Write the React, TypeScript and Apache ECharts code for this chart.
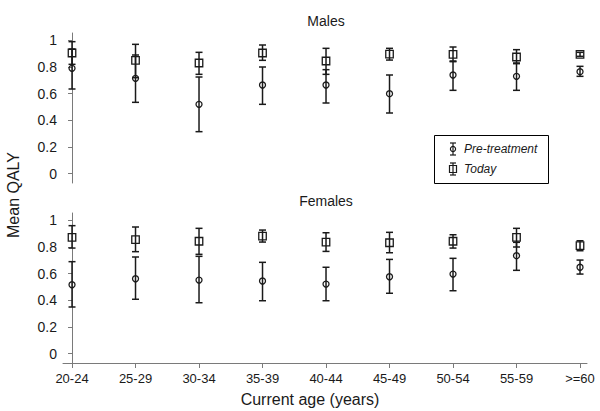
import React, { useEffect, useRef } from "react";
import * as echarts from "echarts";

const categories = ["20-24", "25-29", "30-34", "35-39", "40-44", "45-49", "50-54", "55-59", ">=60"];
const yTicks = [0, 0.2, 0.4, 0.6, 0.8, 1];

const malesPreMean = [0.79, 0.715, 0.52, 0.665, 0.665, 0.6, 0.74, 0.73, 0.765];
const malesPreLow = [0.635, 0.535, 0.315, 0.52, 0.53, 0.455, 0.625, 0.625, 0.73];
const malesPreHigh = [0.935, 0.89, 0.725, 0.8, 0.78, 0.74, 0.845, 0.83, 0.805];
const malesTodayMean = [0.905, 0.85, 0.83, 0.905, 0.845, 0.897, 0.895, 0.875, 0.895];
const malesTodayLow = [0.82, 0.72, 0.745, 0.85, 0.745, 0.852, 0.84, 0.825, 0.88];
const malesTodayHigh = [0.99, 0.97, 0.91, 0.965, 0.94, 0.94, 0.95, 0.93, 0.91];

const femalesPreMean = [0.517, 0.562, 0.552, 0.545, 0.522, 0.577, 0.597, 0.735, 0.648];
const femalesPreLow = [0.35, 0.408, 0.382, 0.397, 0.397, 0.453, 0.472, 0.625, 0.597];
const femalesPreHigh = [0.69, 0.725, 0.73, 0.685, 0.648, 0.707, 0.715, 0.835, 0.702];
const femalesTodayMean = [0.872, 0.855, 0.843, 0.882, 0.837, 0.832, 0.843, 0.872, 0.81];
const femalesTodayLow = [0.792, 0.765, 0.745, 0.837, 0.767, 0.757, 0.792, 0.8, 0.772];
const femalesTodayHigh = [0.96, 0.95, 0.94, 0.927, 0.907, 0.91, 0.892, 0.94, 0.847];

const FONT = "Liberation Sans, Arial, sans-serif";
const INK = "#1a1a1a";
const AXIS = "#7a7a7a";

function errorSeries(low: number[], high: number[], axis: number) {
  return {
    type: "custom",
    xAxisIndex: axis,
    yAxisIndex: axis,
    data: low.map((l, i) => [i, l, high[i]]),
    renderItem: (params: any, api: any) => {
      const x = api.value(0);
      const lo = api.coord([x, api.value(1)]);
      const hi = api.coord([x, api.value(2)]);
      const w = 3.5;
      const st = { stroke: INK, lineWidth: 1.5 };
      return {
        type: "group",
        children: [
          { type: "line", shape: { x1: lo[0], y1: lo[1], x2: hi[0], y2: hi[1] }, style: st },
          { type: "line", shape: { x1: lo[0] - w, y1: lo[1], x2: lo[0] + w, y2: lo[1] }, style: st },
          { type: "line", shape: { x1: hi[0] - w, y1: hi[1], x2: hi[0] + w, y2: hi[1] }, style: st },
        ],
      };
    },
    z: 2,
    silent: true,
  };
}

function markerSeries(mean: number[], axis: number, symbol: string, size: number) {
  return {
    type: "scatter",
    xAxisIndex: axis,
    yAxisIndex: axis,
    symbol,
    symbolSize: size,
    data: mean.map((m, i) => [i, m]),
    itemStyle: { color: "rgba(0,0,0,0)", borderColor: INK, borderWidth: 1.3, opacity: 1 },
    z: 3,
    silent: true,
  };
}

const idx = categories.map((_, i) => i);

function yAxis(grid: number) {
  return {
    type: "value",
    gridIndex: grid,
    min: -0.07,
    max: 1.055,
    axisLine: { show: true, lineStyle: { color: AXIS, width: 1 } },
    axisTick: { show: true, length: 4, customValues: yTicks, lineStyle: { color: AXIS } },
    axisLabel: {
      customValues: yTicks,
      margin: 6,
      color: INK,
      fontFamily: FONT,
      fontSize: 14,
      formatter: (v: number) => (v === 0 || v === 1 ? String(v) : v.toFixed(1)),
    },
    splitLine: { show: false },
  };
}

export default function App() {
  const ref = useRef<HTMLDivElement>(null);
  useEffect(() => {
    if (!ref.current) return;
    const chart = echarts.init(ref.current, undefined, { renderer: "svg" });
    const legendIcon = (cy: number, kind: "circle" | "rect") => {
      const x = 453;
      const st = { stroke: INK, lineWidth: 1.2, fill: "none" };
      const children: any[] = [
        { type: "line", z: 11, shape: { x1: x, y1: cy - 6, x2: x, y2: cy + 6 }, style: st },
        { type: "line", z: 11, shape: { x1: x - 3, y1: cy - 6, x2: x + 3, y2: cy - 6 }, style: st },
        { type: "line", z: 11, shape: { x1: x - 3, y1: cy + 6, x2: x + 3, y2: cy + 6 }, style: st },
      ];
      if (kind === "circle") children.push({ type: "circle", z: 11, shape: { cx: x, cy, r: 2.6 }, style: st });
      else children.push({ type: "rect", z: 11, shape: { x: x - 3.5, y: cy - 3.5, width: 7, height: 7 }, style: st });
      return children;
    };
    chart.setOption({
      animation: false,
      backgroundColor: "#ffffff",
      grid: [
        { left: 63, top: 33, width: 524, height: 150 },
        { left: 63, top: 213, width: 524, height: 150 },
      ],
      xAxis: [
        { type: "value", gridIndex: 0, min: -0.142, max: 8.11, show: false },
        {
          type: "value",
          gridIndex: 1,
          min: -0.142,
          max: 8.11,
          axisLine: { show: true, onZero: false, lineStyle: { color: AXIS, width: 1 } },
          axisTick: { show: true, length: 5, customValues: idx, lineStyle: { color: AXIS } },
          axisLabel: {
            customValues: idx,
            margin: 9,
            color: INK,
            fontFamily: FONT,
            fontSize: 13,
            formatter: (v: number) => categories[Math.round(v)],
          },
          splitLine: { show: false },
        },
      ],
      yAxis: [yAxis(0), yAxis(1)],
      series: [
        errorSeries(malesPreLow, malesPreHigh, 0),
        errorSeries(malesTodayLow, malesTodayHigh, 0),
        markerSeries(malesPreMean, 0, "circle", 6),
        markerSeries(malesTodayMean, 0, "rect", 7.5),
        errorSeries(femalesPreLow, femalesPreHigh, 1),
        errorSeries(femalesTodayLow, femalesTodayHigh, 1),
        markerSeries(femalesPreMean, 1, "circle", 6),
        markerSeries(femalesTodayMean, 1, "rect", 7.5),
      ],
      graphic: [
        {
          type: "text",
          x: 326,
          y: 21,
          style: { text: "Males", fontFamily: FONT, fontSize: 14, fill: INK, align: "center", verticalAlign: "middle" },
        },
        {
          type: "text",
          x: 326,
          y: 201,
          style: { text: "Females", fontFamily: FONT, fontSize: 14, fill: INK, align: "center", verticalAlign: "middle" },
        },
        {
          type: "text",
          x: 13,
          y: 195,
          rotation: Math.PI / 2,
          style: { text: "Mean QALY", fontFamily: FONT, fontSize: 16, fill: INK, align: "center", verticalAlign: "middle" },
        },
        {
          type: "text",
          x: 310,
          y: 399,
          style: {
            text: "Current age (years)",
            fontFamily: FONT,
            fontSize: 16,
            fill: INK,
            align: "center",
            verticalAlign: "middle",
          },
        },
        {
          type: "group",
          children: [
            {
              type: "rect",
              z: 10,
              shape: { x: 434.5, y: 135.5, width: 114, height: 48 },
              style: { fill: "#fff", stroke: "#000", lineWidth: 1 },
            },
            ...legendIcon(149, "circle"),
            ...legendIcon(169, "rect"),
            {
              type: "text",
              z: 11,
              x: 464,
              y: 149,
              style: { text: "Pre-treatment", fontFamily: FONT, fontStyle: "italic", fontSize: 12, fill: INK, verticalAlign: "middle" },
            },
            {
              type: "text",
              z: 11,
              x: 464,
              y: 169,
              style: { text: "Today", fontFamily: FONT, fontStyle: "italic", fontSize: 12, fill: INK, verticalAlign: "middle" },
            },
          ],
        },
      ],
    });
    return () => chart.dispose();
  }, []);
  return (
    <div
      ref={ref}
      style={{ position: "fixed", left: 0, top: 0, width: 600, height: 411, background: "#fff" }}
    />
  );
}
